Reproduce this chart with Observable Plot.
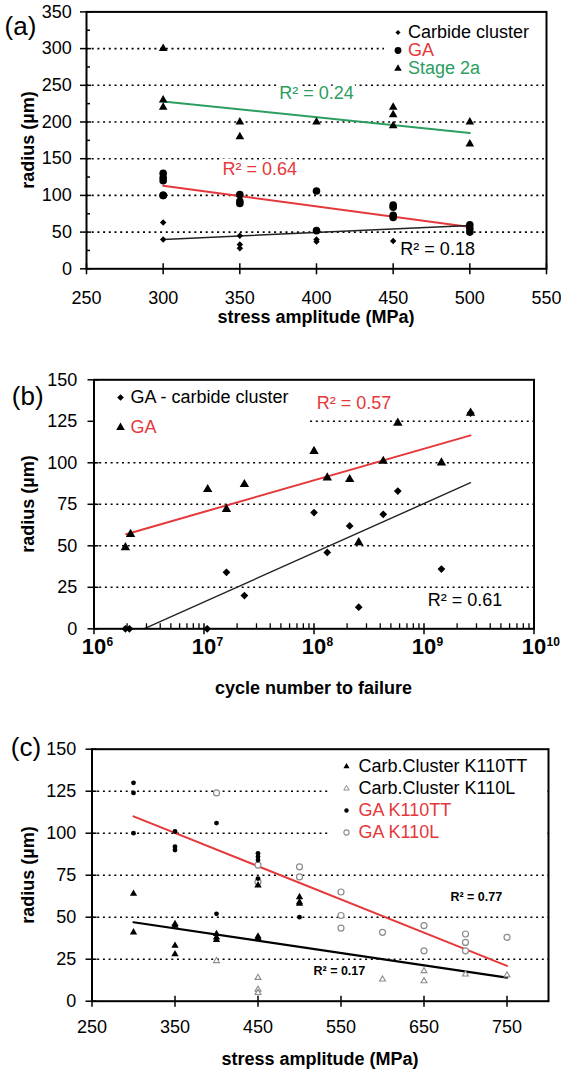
<!DOCTYPE html>
<html><head><meta charset="utf-8">
<script src="https://cdn.jsdelivr.net/npm/d3@7"></script>
<script src="https://cdn.jsdelivr.net/npm/@observablehq/plot@0.6"></script>
<style>
body{margin:0;background:#fff;font-family:"Liberation Sans",Arial,Helvetica,sans-serif;}
#root{position:relative;width:561px;height:1071px;overflow:hidden;background:#fff;}
.panel{position:absolute;left:0;}
.lbl{position:absolute;transform:translate(-50%,-50%);white-space:nowrap;color:#000;line-height:1;}
.ytitle{transform:translate(-50%,-50%) rotate(-90deg);}
#root svg text{paint-order:stroke;}
</style></head><body><div id="root"></div>
<script>
// ---------------- Panel (a) data ----------------
const stressA = [300, 350, 400, 450, 500];
const carbideA = [[63, 40], [45, 33, 28], [40, 37], [38], [57]];
const gaA = [[130, 124, 120, 100, 100], [101, 92, 89], [106, 52], [87, 84, 73, 70], [60, 55, 50]];
const stage2aA = [[300, 230, 220], [200, 180], [200], [220, 210, 195], [200, 170]];
const fitStressA = [300, 500];
const fitCarbideA = [40, 59];
const fitGaA = [113, 57];
const fitStage2aA = [228, 185];
const r2TextA = ["R² = 0.24", "R² = 0.64", "R² = 0.18"];
const r2StressA = [400, 363, 479];
const r2RadiusA = [239, 135, 26];
const legendA = ["Carbide cluster", "GA", "Stage 2a"];
const xTicksA = [250, 300, 350, 400, 450, 500, 550];
const yTicksA = [0, 50, 100, 150, 200, 250, 300, 350];
const yMinorA = [25, 75, 125, 175, 225, 275, 325];
const gridA = [50, 100, 150, 200, 250, 300];

// ---------------- Panel (b) data ----------------
const cyclesGaB = [1.93e6, 2.15e6, 1.08e7, 1.6e7, 2.33e7, 1.0e8, 1.32e8, 2.11e8, 2.55e8, 4.26e8, 5.78e8, 1.44e9, 2.65e9];
const radiusGaB = [49, 57, 84, 72, 87, 107, 91, 90, 52, 101, 124, 100, 130];
const cyclesCcB = [1.93e6, 2.1e6, 1.07e7, 1.6e7, 2.33e7, 1.0e8, 1.32e8, 2.11e8, 2.55e8, 4.26e8, 5.78e8, 1.44e9, 2.65e9];
const radiusCcB = [0, 0, 0, 34, 20, 70, 46, 62, 13, 69, 83, 36, 130];
const fitCyclesGaB = [1.96e6, 2.65e9];
const fitRadiusGaB = [57, 116.5];
const fitCyclesCcB = [2.84e6, 2.65e9];
const fitRadiusCcB = [0, 88];
const r2TextB = ["R² = 0.57", "R² = 0.61"];
const r2CyclesB = [2.31e8, 2.36e9];
const r2RadiusB = [136, 17];
const legendB = ["GA - carbide cluster", "GA"];
const decadesB = [1e6, 1e7, 1e8, 1e9, 1e10];
const expLabelsB = ["6", "7", "8", "9", "10"];
const yTicksB = [0, 25, 50, 75, 100, 125, 150];
const gridB = [25, 50, 75, 100, 125];

// ---------------- Panel (c) data ----------------
const ccTTStress = [300, 350, 400, 450, 500];
const ccTT = [[64, 41], [46, 45, 33, 28], [40, 38, 36.5], [69, 38.5, 37.5], [62, 59, 58]];
const ccLStress = [400, 450, 600, 650, 700, 750];
const ccL = [[24], [14, 7, 5], [13], [18, 12], [16], [15.5]];
const gaTTStress = [300, 350, 400, 450, 500];
const gaTT = [[130, 124, 100], [101, 92, 90], [106, 52], [88, 86, 84, 73], [50]];
const gaLStress = [400, 450, 500, 550, 600, 650, 700, 750];
const gaL = [[124], [81, 71], [80, 74], [65, 51, 43.5], [41], [45, 30], [40, 35, 30], [38]];
const fitStressC = [300, 750];
const fitGaC = [110, 21];
const fitCcC = [47, 14];
const r2TextC = ["R² = 0.77", "R² = 0.17"];
const r2StressC = [713, 548];
const r2RadiusC = [62, 18];
const legendC = ["Carb.Cluster K110TT", "Carb.Cluster K110L", "GA K110TT", "GA K110L"];
const xTicksC = [250, 350, 450, 550, 650, 750];
const yTicksC = [0, 25, 50, 75, 100, 125, 150];
const gridC = [25, 50, 75, 100, 125];

// ---------------- helpers ----------------
const FONT = '"Liberation Sans", Arial, Helvetica, sans-serif';
const RED = "#e5383b", GREEN = "#2c9e5f", GRAY = "#8c8c8c";
const flat = (xs, ys) => xs.flatMap((x, i) => ys[i].map(y => ({x, y})));
const pairs = (xs, ys) => xs.map((x, i) => ({x, y: ys[i]}));
const labels = (ts, xs, ys) => ts.map((t, i) => ({t, x: xs[i], y: ys[i]}));
const root = document.getElementById("root");

function place(node, top) {
  const d = document.createElement("div");
  d.className = "panel";
  d.style.top = top + "px";
  d.appendChild(node);
  root.appendChild(d);
}
function text(str, x, y, css) {
  const d = document.createElement("div");
  d.className = "lbl" + (css.rot ? " ytitle" : "");
  d.textContent = str;
  d.style.left = x + "px"; d.style.top = y + "px";
  d.style.fontSize = css.size + "px";
  d.style.fontWeight = css.bold ? "bold" : "normal";
  if (css.color) d.style.color = css.color;
  root.appendChild(d);
}
function legend(items, styles, {left, top, width, height, rowTop, rowStep, markerX, textX}) {
  const svg = Plot.plot({
    width, height, margin: 0,
    y: {type: "point", domain: items, padding: 0, range: [rowTop, rowTop + rowStep * (items.length - 1)], axis: null},
    style: {background: "white", fontFamily: FONT, fontSize: "18px", overflow: "visible"},
    marks: items.flatMap((lab, i) => [
      Plot.dot([lab], {y: d => d, frameAnchor: "left", dx: markerX, ...styles[i].dot}),
      Plot.text([lab], {y: d => d, frameAnchor: "left", dx: textX, text: d => d, textAnchor: "start", fill: styles[i].color, fontSize: 18})
    ])
  });
  svg.style.position = "absolute";
  svg.style.left = left + "px";
  svg.style.top = top + "px";
  root.appendChild(svg);
}
function axes({xTicks, yTicks, xPad, yPad, xLabels = true}) {
  return [
    Plot.axisX(xTicks, {tickSize: 11, dy: -5, fill: "none", strokeWidth: 1.5, label: null}),
    xLabels ? Plot.axisX(xTicks, {tickSize: 6, tickPadding: xPad, stroke: "none", label: null, fontSize: 18, tickFormat: d => String(d)}) : null,
    Plot.axisY(yTicks, {tickSize: 11, dx: 5, fill: "none", strokeWidth: 1.5, label: null}),
    Plot.axisY(yTicks, {tickSize: 6, tickPadding: yPad, stroke: "none", label: null, fontSize: 18, tickFormat: d => String(d)})
  ];
}
const grid = g => Plot.ruleY(g, {stroke: "black", strokeWidth: 1.6, strokeDasharray: "2,3.7"});
const r2 = (arr, color, size, weight) => Plot.text(arr, {x: "x", y: "y", text: "t", fill: color, stroke: "white", strokeWidth: 7, fontSize: size, fontWeight: weight});

// ---------------- Panel (a) ----------------
const la = labels(r2TextA, r2StressA, r2RadiusA);
place(Plot.plot({
  width: 561, height: 330, marginLeft: 86, marginRight: 15, marginTop: 11.4, marginBottom: 61.7,
  x: {domain: [250, 550]}, y: {domain: [0, 350]},
  style: {fontFamily: FONT, fontSize: "18px", color: "black", background: "transparent", overflow: "visible"},
  marks: [
    grid(gridA),
    r2([la[0]], GREEN, 18, "normal"),
    r2([la[1]], RED, 18, "normal"),
    r2([la[2]], "black", 18, "normal"),
    Plot.line(pairs(fitStressA, fitStage2aA), {x: "x", y: "y", stroke: GREEN, strokeWidth: 2}),
    Plot.line(pairs(fitStressA, fitGaA), {x: "x", y: "y", stroke: RED, strokeWidth: 2}),
    Plot.line(pairs(fitStressA, fitCarbideA), {x: "x", y: "y", stroke: "#222", strokeWidth: 1.4}),
    Plot.dot(flat(stressA, stage2aA), {x: "x", y: "y", symbol: "triangle", r: 3.2, fill: "black"}),
    Plot.dot(flat(stressA, gaA), {x: "x", y: "y", symbol: "circle", r: 3.8, fill: "black"}),
    Plot.dot(flat(stressA, carbideA), {x: "x", y: "y", symbol: "diamond2", r: 2.9, fill: "black"}),
    Plot.frame({stroke: "black", strokeWidth: 2}),
    ...axes({xTicks: xTicksA, yTicks: yTicksA, xPad: 16, yPad: 8.6}),
    Plot.axisY(yMinorA, {tickSize: 4, dx: 4, fill: "none", strokeWidth: 1.5, label: null})
  ]
}), 0);
legend(legendA, [
  {color: "black", dot: {symbol: "diamond2", r: 2.3, fill: "black"}},
  {color: RED, dot: {symbol: "circle", r: 3.4, fill: "black"}},
  {color: GREEN, dot: {symbol: "triangle", r: 2.8, fill: "black"}}
], {left: 384, top: 13, width: 160, height: 66, rowTop: 18.7, rowStep: 18.3, markerX: 13.5, textX: 23.5});
text("(a)", 20.5, 26, {size: 26});
text("radius (µm)", 28, 140, {size: 18, bold: true, rot: true});
text("stress amplitude (MPa)", 316, 317, {size: 18, bold: true});

// ---------------- Panel (b) ----------------
const lb = labels(r2TextB, r2CyclesB, r2RadiusB);
const minorB = decadesB.slice(0, 4).flatMap(d => [2, 3, 4, 5, 6, 7, 8, 9].map(m => m * d));
place(Plot.plot({
  width: 561, height: 360, marginLeft: 93.5, marginRight: 27.5, marginTop: 49.3, marginBottom: 61.7,
  x: {type: "log", domain: [1e6, 1e10]}, y: {domain: [0, 150]},
  style: {fontFamily: FONT, fontSize: "18px", color: "black", background: "transparent", overflow: "visible"},
  marks: [
    grid(gridB),
    r2([lb[0]], RED, 18, "normal"),
    r2([lb[1]], "black", 18, "normal"),
    Plot.line(pairs(fitCyclesGaB, fitRadiusGaB), {x: "x", y: "y", stroke: RED, strokeWidth: 2}),
    Plot.line(pairs(fitCyclesCcB, fitRadiusCcB), {x: "x", y: "y", stroke: "#222", strokeWidth: 1.4}),
    Plot.dot(pairs(cyclesGaB, radiusGaB), {x: "x", y: "y", symbol: "triangle", r: 3.5, fill: "black"}),
    Plot.dot(pairs(cyclesCcB, radiusCcB), {x: "x", y: "y", symbol: "diamond2", r: 3.5, fill: "black"}),
    Plot.frame({stroke: "black", strokeWidth: 2}),
    ...axes({xTicks: decadesB, yTicks: yTicksB, xPad: 14, yPad: 10.7, xLabels: false}),
    Plot.axisX(minorB, {tickSize: 5, dy: -5, fill: "none", strokeWidth: 1.3, label: null}),
    Plot.text(decadesB, {x: d => d, frameAnchor: "bottom", dy: 25, text: () => "10", fontSize: 22, fontWeight: "bold"}),
    Plot.text(decadesB, {x: d => d, frameAnchor: "bottom", dy: 17, dx: 12.5, text: (d, i) => expLabelsB[i], textAnchor: "start", fontSize: 12, fontWeight: "bold"})
  ]
}), 330);
legend(legendB, [
  {color: "black", dot: {symbol: "diamond2", r: 3.0, fill: "black"}},
  {color: RED, dot: {symbol: "triangle", r: 3.2, fill: "black"}}
], {left: 95, top: 381, width: 212, height: 60, rowTop: 15.7, rowStep: 30, markerX: 25, textX: 35});
text("(b)", 27.7, 396, {size: 26});
text("radius (µm)", 28, 504, {size: 18, bold: true, rot: true});
text("cycle number to failure", 313.5, 688, {size: 18, bold: true});

// ---------------- Panel (c) ----------------
const lc = labels(r2TextC, r2StressC, r2RadiusC);
place(Plot.plot({
  width: 561, height: 381, marginLeft: 91.5, marginRight: 13, marginTop: 58.7, marginBottom: 70.3,
  x: {domain: [250, 800]}, y: {domain: [0, 150]},
  style: {fontFamily: FONT, fontSize: "18px", color: "black", background: "transparent", overflow: "visible"},
  marks: [
    grid(gridC),
    r2(lc, "black", 12.5, "bold"),
    Plot.line(pairs(fitStressC, fitGaC), {x: "x", y: "y", stroke: RED, strokeWidth: 2}),
    Plot.line(pairs(fitStressC, fitCcC), {x: "x", y: "y", stroke: "black", strokeWidth: 2.2}),
    Plot.dot(flat(gaLStress, gaL), {x: "x", y: "y", symbol: "circle", r: 3, fill: "white", stroke: GRAY, strokeWidth: 1.2}),
    Plot.dot(flat(ccLStress, ccL), {x: "x", y: "y", symbol: "triangle", r: 2.2, fill: "white", stroke: GRAY, strokeWidth: 1.1}),
    Plot.dot(flat(ccTTStress, ccTT), {x: "x", y: "y", symbol: "triangle", r: 2.7, fill: "black"}),
    Plot.dot(flat(gaTTStress, gaTT), {x: "x", y: "y", symbol: "circle", r: 2.4, fill: "black"}),
    Plot.frame({stroke: "black", strokeWidth: 2}),
    ...axes({xTicks: xTicksC, yTicks: yTicksC, xPad: 13, yPad: 9.8})
  ]
}), 690);
legend(legendC, [
  {color: "black", dot: {symbol: "triangle", r: 2.3, fill: "black"}},
  {color: "black", dot: {symbol: "triangle", r: 2.0, fill: "white", stroke: GRAY, strokeWidth: 1}},
  {color: RED, dot: {symbol: "circle", r: 2.2, fill: "black"}},
  {color: RED, dot: {symbol: "circle", r: 2.6, fill: "white", stroke: GRAY, strokeWidth: 1.1}}
], {left: 328, top: 751, width: 217, height: 94, rowTop: 14, rowStep: 22.6, markerX: 18, textX: 30});
text("(c)", 26, 746.5, {size: 26});
text("radius (µm)", 28, 875, {size: 18, bold: true, rot: true});
text("stress amplitude (MPa)", 320, 1059, {size: 18, bold: true});
</script></body></html>
